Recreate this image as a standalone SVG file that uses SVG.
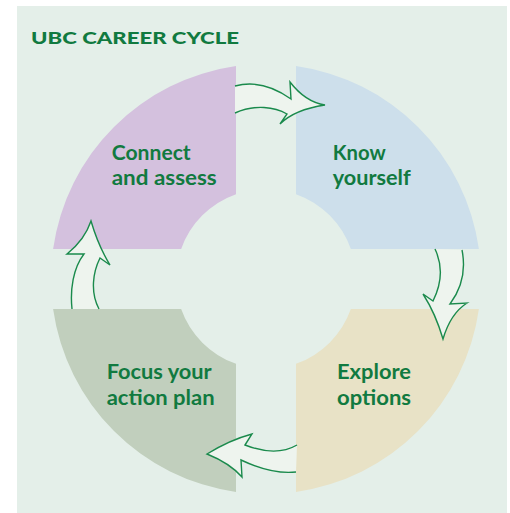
<svg xmlns="http://www.w3.org/2000/svg" width="510" height="513" viewBox="0 0 510 513">
<style>
.lbl{font-family:Lato,"Open Sans","DejaVu Sans",sans-serif;font-weight:700;font-size:21px;fill:#117a40}
.ttl{font-family:Lato,"Open Sans","DejaVu Sans",sans-serif;font-weight:900;font-size:16.5px;fill:#117a40}
.arrow{fill:#eef4ee;stroke:#1a8a4c;stroke-width:1.4;stroke-linejoin:miter}
</style>
<rect x="0" y="0" width="510" height="513" fill="#ffffff"/>
<rect x="17" y="6" width="490" height="507" fill="#e4efe9"/>
<text x="31" y="44.3" class="ttl" textLength="208" lengthAdjust="spacingAndGlyphs">UBC CAREER CYCLE</text>
<g id="connect">
<path d="M236,66.1 L236,194.15 A90,90 0 0 0 181.15,249 L53.1,249 A215,215 0 0 1 236,66.1 Z" fill="#d4c1de"/>
<text class="lbl" x="111.7" y="159.5" textLength="79" lengthAdjust="spacingAndGlyphs">Connect</text>
<text class="lbl" x="111.7" y="185" textLength="105" lengthAdjust="spacingAndGlyphs">and assess</text>
</g>
<g id="know">
<path d="M296,66.1 A215,215 0 0 1 478.9,249 L350.85,249 A90,90 0 0 0 296,194.15 Z" fill="#cddfeb"/>
<text class="lbl" x="332.7" y="159.5" textLength="53" lengthAdjust="spacingAndGlyphs">Know</text>
<text class="lbl" x="332.7" y="185" textLength="78" lengthAdjust="spacingAndGlyphs">yourself</text>
</g>
<g id="explore">
<path d="M478.9,309 A215,215 0 0 1 296,491.9 L296,363.85 A90,90 0 0 0 350.85,309 Z" fill="#e8e2c6"/>
<text class="lbl" x="337" y="379.3" textLength="74" lengthAdjust="spacingAndGlyphs">Explore</text>
<text class="lbl" x="337" y="405" textLength="74" lengthAdjust="spacingAndGlyphs">options</text>
</g>
<g id="focus">
<path d="M236,491.9 A215,215 0 0 1 53.1,309 L181.15,309 A90,90 0 0 0 236,363.85 Z" fill="#c1cfbd"/>
<text class="lbl" x="106.7" y="379.3" textLength="105" lengthAdjust="spacingAndGlyphs">Focus your</text>
<text class="lbl" x="106.7" y="405" textLength="108" lengthAdjust="spacingAndGlyphs">action plan</text>
</g>
<g id="connectors">
<path class="arrow" d="M235,86 C250,82 270,84 291,99 L290,82 C300,95 312,103 325,105 C305,108 290,114 280,124 L287,114 C275,107 255,104 235,113"/>
<path class="arrow" d="M435,249 C444,268 441,285 433,301 L423,294 C432,308 438,322 443,339 C448,322 456,310 467,303 L450,304 C462,288 466,270 462,250"/>
<path class="arrow" d="M297,445 C285,452 268,454 245,445 L252,434 C237,438 220,446 207,454 C222,460 234,468 242,477 L241,460 C258,468 278,474 296,472"/>
<path class="arrow" d="M72,309 C70,290 73,268 84,254 L67,254 C77,246 86,236 91,221 C96,238 102,252 110,265 L100,258 C93,272 90,292 99,309"/>
</g>
</svg>
